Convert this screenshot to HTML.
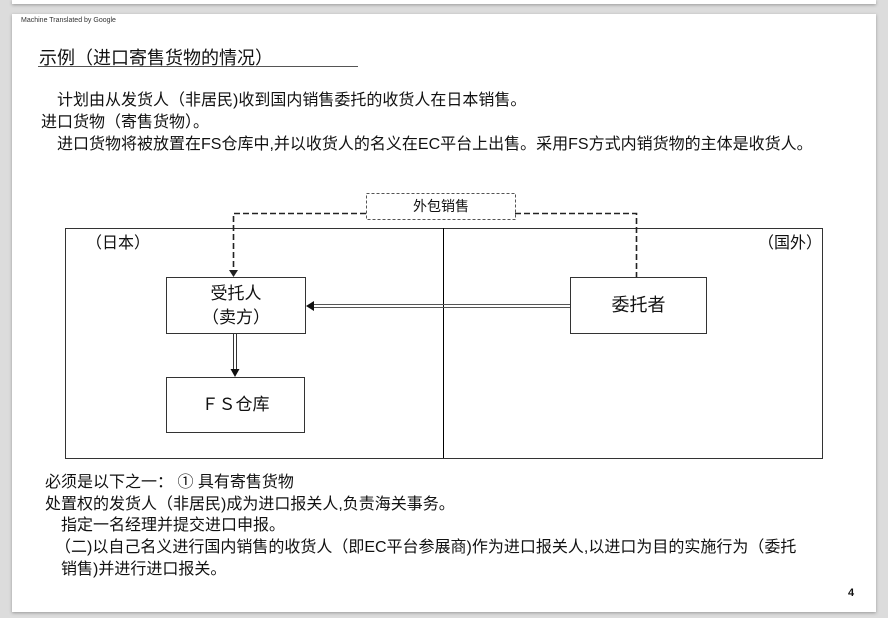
<!DOCTYPE html>
<html><head><meta charset="utf-8"><style>
body{margin:0;width:888px;height:618px;background:#dcdcdc;position:relative;overflow:hidden;font-family:"Liberation Sans","Noto Sans CJK SC",sans-serif;color:#111}
.pg{position:absolute;left:12px;top:14px;width:864px;height:598px;background:#fff;box-shadow:0 1px 3px #999}
.top{position:absolute;left:12px;top:0;width:864px;height:4px;background:#fff;box-shadow:0 1px 3px #999}
.t{position:absolute;white-space:nowrap;font-size:16px;line-height:20px}
</style></head><body>
<div class="top"></div><div class="pg"></div>
<div class="t" style="left:21px;top:16px;font-size:7px;line-height:9px;color:#333">Machine Translated by Google</div>
<div class="t" style="left:39px;top:46px;font-size:18px;line-height:24px">示例（进口寄售货物的情况）</div>
<div style="position:absolute;left:38px;top:66px;width:320px;height:1px;background:#555"></div>
<div class="t" style="left:57px;top:91px">计划由从发货人（非居民)收到国内销售委托的收货人在日本销售。</div>
<div class="t" style="left:41px;top:113px">进口货物（寄售货物）。</div>
<div class="t" style="left:57px;top:135px">进口货物将被放置在FS仓库中,并以收货人的名义在EC平台上出售。采用FS方式内销货物的主体是收货人。</div>
<svg style="position:absolute;left:0;top:0" width="888" height="618">
<rect x="65.5" y="228.5" width="757" height="230" fill="none" stroke="#333"/>
<line x1="443.5" y1="228" x2="443.5" y2="458" stroke="#000"/>
<rect x="366.5" y="193.5" width="149" height="26" fill="#fff" stroke="#555" stroke-dasharray="3,2"/>
<path d="M366 213.5H233.5V272" fill="none" stroke="#222" stroke-width="1.6" stroke-dasharray="6,3"/>
<path d="M229 270L233.5 277L238 270Z" fill="#222"/>
<path d="M515 213.5H636.5V277" fill="none" stroke="#222" stroke-width="1.6" stroke-dasharray="6,3"/>
<rect x="166.5" y="277.5" width="139" height="56" fill="#fff" stroke="#333"/>
<rect x="166.5" y="377.5" width="138" height="55" fill="#fff" stroke="#333"/>
<rect x="570.5" y="277.5" width="136" height="56" fill="#fff" stroke="#333"/>
<line x1="312" y1="304.5" x2="570" y2="304.5" stroke="#555"/>
<line x1="312" y1="307.5" x2="570" y2="307.5" stroke="#555"/>
<path d="M306 306L314 301V311Z" fill="#111"/>
<line x1="233.5" y1="334" x2="233.5" y2="370" stroke="#333"/>
<line x1="236.5" y1="334" x2="236.5" y2="370" stroke="#333"/>
<path d="M235 377L230.5 369H239.5Z" fill="#111"/>
</svg>
<div class="t" style="left:366px;top:196px;width:150px;text-align:center;font-size:14px">外包销售</div>
<div class="t" style="left:86px;top:234px">（日本）</div>
<div class="t" style="left:758px;top:234px">（国外）</div>
<div class="t" style="left:166px;top:282px;width:140px;text-align:center;font-size:17px;line-height:24px">受托人<br>（卖方）</div>
<div class="t" style="left:166px;top:393px;width:139px;text-align:center;font-size:17px;line-height:24px">ＦＳ仓库</div>
<div class="t" style="left:570px;top:293px;width:137px;text-align:center;font-size:18px;line-height:24px">委托者</div>
<div class="t" style="left:45px;top:473px">必须是以下之一：  ① 具有寄售货物</div>
<div class="t" style="left:45px;top:495px">处置权的发货人（非居民)成为进口报关人,负责海关事务。</div>
<div class="t" style="left:61px;top:516px">指定一名经理并提交进口申报。</div>
<div class="t" style="left:55px;top:538px">（二)以自己名义进行国内销售的收货人（即EC平台参展商)作为进口报关人,以进口为目的实施行为（委托</div>
<div class="t" style="left:61px;top:560px">销售)并进行进口报关。</div>
<div class="t" style="left:848px;top:583px;font-size:11px;font-weight:bold">4</div>
</body></html>
